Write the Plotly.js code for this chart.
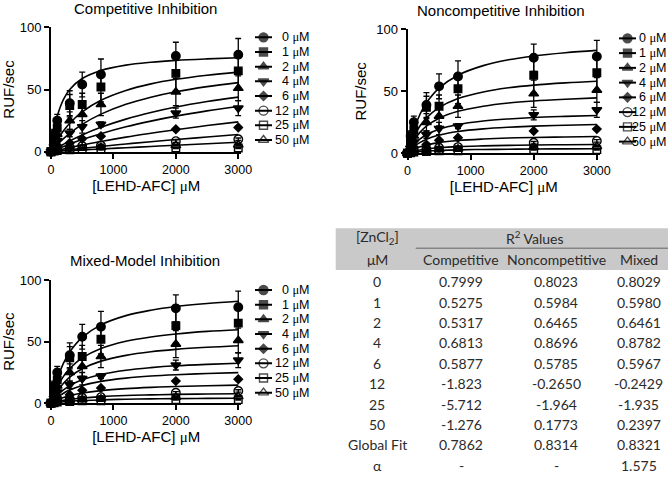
<!DOCTYPE html>
<html><head><meta charset="utf-8">
<script src="https://cdn.plot.ly/plotly-3.0.1.min.js"></script>
<style>html,body{margin:0;padding:0;background:#fff}</style>
</head><body><div id="chart" style="width:668px;height:477px"></div>
<script>
// ---------- data ----------
const inhibitorLabels = ["0", "1", "2", "4", "6", "12", "25", "50"]; // [ZnCl2] µM
const substrate = [0, 50, 100, 300, 500, 800, 2000, 3000];           // [LEHD-AFC] µM

const rate0  = [0, 14, 25, 39, 54, 62, 77, 78];
const rate1  = [0, 10, 19, 37, 38, 52, 63, 65];
const rate2  = [0, 7, 14, 25, 30, 38, 48, 51];
const rate4  = [0, 4, 9, 15, 20, 22, 31, 35];
const rate6  = [0, 2, 5, 7, 10.5, 12.5, 18, 19.5];
const rate12 = [0, 1, 2, 3.5, 4.5, 5, 8.5, 10];
const rate25 = [0, 0.5, 1, 1.5, 2, 2, 3, 3];
const rate50 = [0, 0.5, 1.5, 2.5, 3, 3.5, 5, 5.5];

const err0  = [0, 4, 5, 10, 10, 12.5, 11, 13];
const err1  = [0, 3, 5, 9, 9, 12, 14, 14];
const err2  = [0, 2, 4, 7, 8, 9, 11, 10];
const err4  = [0, 1, 2, 3, 5, 2, 4, 6];
const err6  = [0, 0.5, 1, 1, 1, 1, 1, 1];
const err12 = [0, 0.5, 0.5, 1, 1, 1, 1, 1];
const err25 = [0, 0.3, 0.3, 0.5, 0.5, 0.5, 0.5, 0.5];
const err50 = [0, 0.3, 0.5, 0.5, 0.5, 0.5, 0.5, 0.5];

// fitted curves
const curveS = [0, 50, 100, 200, 300, 500, 800, 1200, 1600, 2000, 2500, 3000];

const comp0  = [0, 17.4, 28.6, 42.1, 50.0, 58.8, 65.3, 69.6, 71.9, 73.4, 74.6, 75.5];
const comp1  = [0, 5.0, 9.4, 16.8, 22.9, 32.0, 41.3, 49.2, 54.5, 58.2, 61.5, 64.0];
const comp2  = [0, 2.9, 5.6, 10.5, 14.8, 22.0, 30.2, 38.1, 43.8, 48.2, 52.3, 55.5];
const comp4  = [0, 1.6, 3.1, 6.0, 8.7, 13.5, 19.6, 26.2, 31.5, 35.9, 40.3, 43.9];
const comp6  = [0, 1.1, 2.2, 4.2, 6.2, 9.8, 14.5, 20.0, 24.6, 28.6, 32.8, 36.4];
const comp12 = [0, 0.6, 1.1, 2.2, 3.3, 5.3, 8.2, 11.7, 14.8, 17.7, 21.0, 24.0];
const comp25 = [0, 0.3, 0.6, 1.1, 1.6, 2.7, 4.2, 6.2, 8.0, 9.8, 11.8, 13.8];
const comp50 = [0, 0.1, 0.3, 0.6, 0.8, 1.4, 2.2, 3.2, 4.2, 5.2, 6.4, 7.6];

const nonc0  = [0, 10.6, 19.1, 31.7, 40.7, 52.6, 63.0, 70.7, 75.4, 78.5, 81.1, 83.0];
const nonc1  = [0, 7.4, 13.4, 22.2, 28.5, 36.8, 44.1, 49.5, 52.8, 55.0, 56.8, 58.1];
const nonc2  = [0, 5.7, 10.3, 17.1, 21.9, 28.3, 33.9, 38.0, 40.6, 42.2, 43.6, 44.7];
const nonc4  = [0, 3.9, 7.0, 11.7, 15.0, 19.4, 23.2, 26.0, 27.7, 28.9, 29.8, 30.5];
const nonc6  = [0, 3.0, 5.3, 8.8, 11.4, 14.7, 17.6, 19.7, 21.0, 21.9, 22.6, 23.2];
const nonc12 = [0, 1.7, 3.1, 5.2, 6.6, 8.6, 10.3, 11.5, 12.3, 12.8, 13.2, 13.5];
const nonc25 = [0, 0.9, 1.6, 2.7, 3.5, 4.5, 5.4, 6.0, 6.4, 6.7, 6.9, 7.1];
const nonc50 = [0, 0.5, 0.8, 1.4, 1.8, 2.3, 2.8, 3.1, 3.3, 3.5, 3.6, 3.7];

const mixed0  = [0, 11.1, 19.8, 32.6, 41.6, 53.4, 63.6, 71.1, 75.5, 78.5, 81.0, 82.8];
const mixed1  = [0, 7.2, 12.9, 21.8, 28.2, 36.8, 44.5, 50.3, 53.8, 56.2, 58.3, 59.7];
const mixed2  = [0, 5.3, 9.6, 16.3, 21.3, 28.0, 34.2, 38.9, 41.8, 43.7, 45.4, 46.7];
const mixed4  = [0, 3.5, 6.4, 10.9, 14.3, 19.0, 23.4, 26.8, 28.9, 30.4, 31.6, 32.5];
const mixed6  = [0, 2.6, 4.7, 8.2, 10.7, 14.4, 17.8, 20.4, 22.1, 23.2, 24.2, 24.9];
const mixed12 = [0, 1.5, 2.7, 4.7, 6.2, 8.3, 10.3, 11.9, 12.9, 13.6, 14.2, 14.7];
const mixed25 = [0, 0.8, 1.4, 2.4, 3.2, 4.3, 5.4, 6.3, 6.8, 7.2, 7.5, 7.8];
const mixed50 = [0, 0.4, 0.7, 1.3, 1.7, 2.3, 2.8, 3.3, 3.6, 3.8, 4.0, 4.1];

const xTicks = [0, 1000, 2000, 3000];
const yTicks = [0, 50, 100];
const panelTitles = ["Competitive Inhibition", "Noncompetitive Inhibition", "Mixed-Model Inhibition"];

// table
const tableRowLabels   = ["0", "1", "2", "4", "6", "12", "25", "50", "Global Fit", "α"];
const r2Competitive    = ["0.7999", "0.5275", "0.5317", "0.6813", "0.5877", "-1.823", "-5.712", "-1.276", "0.7862", "-"];
const r2Noncompetitive = ["0.8023", "0.5984", "0.6465", "0.8696", "0.5785", "-0.2650", "-1.964", "0.1773", "0.8314", "-"];
const r2Mixed          = ["0.8029", "0.5980", "0.6461", "0.8782", "0.5967", "-0.2429", "-1.935", "0.2397", "0.8321", "1.575"];
const tableColHeaders  = ["Competitive", "Noncompetitive", "Mixed"];

// ---------- build ----------
const W = 668, H = 477;
const px = v => v / W;
const py = v => 1 - v / H;

const rates = [rate0, rate1, rate2, rate4, rate6, rate12, rate25, rate50];
const errs = [err0, err1, err2, err4, err6, err12, err25, err50];
const fits = [
  [comp0, comp1, comp2, comp4, comp6, comp12, comp25, comp50],
  [nonc0, nonc1, nonc2, nonc4, nonc6, nonc12, nonc25, nonc50],
  [mixed0, mixed1, mixed2, mixed4, mixed6, mixed12, mixed25, mixed50]
];
const symbols = ["circle", "square", "triangle-up", "triangle-down", "diamond", "circle-open", "square-open", "triangle-up-open"];
const msizes = [8.5, 7.5, 8.5, 8.5, 6.5, 8.5, 7.5, 8.5];
const INK = "#000";
const MU = '<span style="font-family:\'Liberation Serif\'">μ</span>';

const traces = [];
const axIds = [["x", "y"], ["x2", "y2"], ["x3", "y3"]];
const legAx = [["x4", "y4"], ["x5", "y5"], ["x6", "y6"]];

for (let p = 0; p < 3; p++) {
  for (let i = 0; i < 8; i++) {
    traces.push({
      type: "scatter", mode: "lines", x: curveS, y: fits[p][i],
      xaxis: axIds[p][0], yaxis: axIds[p][1],
      line: {color: INK, width: 1.6, shape: "spline", smoothing: 1},
      showlegend: false, hoverinfo: "skip"
    });
  }
  for (let i = 0; i < 8; i++) {
    traces.push({
      type: "scatter", mode: "markers", x: substrate, y: rates[i],
      xaxis: axIds[p][0], yaxis: axIds[p][1], cliponaxis: false,
      name: inhibitorLabels[i] + " µM",
      error_y: {type: "data", array: errs[i], visible: true, color: INK, thickness: 1.3, width: 3},
      marker: {symbol: symbols[i], size: msizes[i], color: INK, line: {color: INK, width: 1.4}},
      showlegend: false
    });
  }
  // legend keys
  for (let i = 0; i < 8; i++) {
    traces.push({
      type: "scatter", mode: "lines+markers", x: [0, 0.5, 1], y: [i, i, i],
      xaxis: legAx[p][0], yaxis: legAx[p][1], cliponaxis: false,
      line: {color: INK, width: 2},
      marker: {symbol: symbols[i], size: [0, msizes[i] + 0.5, 0], color: INK, line: {color: INK, width: 1.4}},
      showlegend: false, hoverinfo: "skip"
    });
  }
}

const font = {family: "Liberation Sans, Arial, sans-serif", size: 13, color: INK};
function xAxis(d0, d1, anchor) {
  return {domain: [d0, d1], anchor: anchor, range: [0, 3050], tickvals: xTicks,
    showgrid: false, zeroline: false, showline: true, linewidth: 2, linecolor: INK,
    ticks: "outside", ticklen: 5, tickwidth: 2, tickcolor: INK,
    tickfont: {family: font.family, size: 12.5, color: INK},
    title: {text: "[LEHD-AFC] " + MU + "M", font: {family: font.family, size: 15, color: INK}, standoff: 3},
    fixedrange: true};
}
function yAxis(d0, d1, anchor) {
  return {domain: [d0, d1], anchor: anchor, range: [0, 100], tickvals: yTicks,
    showgrid: false, zeroline: false, showline: true, linewidth: 2, linecolor: INK,
    ticks: "outside", ticklen: 5, tickwidth: 2, tickcolor: INK,
    tickfont: {family: font.family, size: 13, color: INK},
    title: {text: "RUF/sec", font: {family: font.family, size: 15, color: INK}, standoff: 6},
    fixedrange: true};
}
function hidden(d0, d1, range) {
  return {domain: [d0, d1], range: range, visible: false, fixedrange: true};
}

const layout = {
  width: W, height: H, margin: {l: 0, r: 0, t: 0, b: 0},
  paper_bgcolor: "#fff", plot_bgcolor: "rgba(0,0,0,0)",
  font: font, showlegend: false,
  xaxis: xAxis(px(51), px(241.4), "y"),
  yaxis: yAxis(py(151.7), py(27.3), "x"),
  xaxis2: xAxis(px(407.5), px(600), "y2"),
  yaxis2: yAxis(py(153.3), py(29.3), "x2"),
  xaxis3: xAxis(px(51), px(241.4), "y3"),
  yaxis3: yAxis(py(403.3), py(280), "x3"),
  xaxis4: Object.assign(hidden(px(255), px(272), [0, 1]), {anchor: "y4"}),
  yaxis4: Object.assign(hidden(py(147.3), py(30), [7.5, -0.5]), {anchor: "x4"}),
  xaxis5: Object.assign(hidden(px(619), px(636), [0, 1]), {anchor: "y5"}),
  yaxis5: Object.assign(hidden(py(149), py(31), [7.5, -0.5]), {anchor: "x5"}),
  xaxis6: Object.assign(hidden(px(255), px(272), [0, 1]), {anchor: "y6"}),
  yaxis6: Object.assign(hidden(py(400), py(282.7), [7.5, -0.5]), {anchor: "x6"}),
  annotations: [],
  shapes: []
};

// panel titles
const titlePos = [[145, 8.5], [500.7, 10], [145, 260.7]];
panelTitles.forEach((t, k) => layout.annotations.push({
  text: t, xref: "paper", yref: "paper", x: px(titlePos[k][0]), y: py(titlePos[k][1]),
  xanchor: "center", yanchor: "middle", showarrow: false,
  font: {family: font.family, size: 15, color: INK}
}));

// legend labels
const legTextRight = [312, 669, 312];
for (let p = 0; p < 3; p++) {
  inhibitorLabels.forEach((lab, i) => layout.annotations.push({
    text: (lab.length < 2 ? "\u2007" : "") + lab + " " + MU + "M",
    xref: "paper", yref: legAx[p][1], x: px(legTextRight[p]), y: i,
    xanchor: "right", yanchor: "middle", showarrow: false,
    font: {family: font.family, size: 12.5, color: INK}
  }));
}

// table
const tFont = {family: "Lato, Carlito, sans-serif", size: 14, color: "#2b2b2b"};
layout.shapes.push({type: "rect", xref: "paper", yref: "paper", x0: px(335.7), x1: 1,
  y0: py(270), y1: py(228.3), fillcolor: "#c9c9c9", line: {width: 0}, layer: "below"});
layout.shapes.push({type: "line", xref: "paper", yref: "paper", x0: px(415.7), x1: 1,
  y0: py(248.3), y1: py(248.3), line: {color: "#858585", width: 1.5}});
const colX = [377, 461, 556, 638.5];
function cell(text, cx, cy) {
  layout.annotations.push({text: text, xref: "paper", yref: "paper", x: px(cx), y: py(cy),
    xanchor: "center", yanchor: "middle", showarrow: false, font: tFont});
}
cell("[ZnCl<sub>2</sub>]", colX[0], 237);
cell("R<sup>2</sup> Values", 535, 237);
cell("μM", colX[0], 259.5);
tableColHeaders.forEach((h, k) => cell(h, colX[k + 1], 259.5));
tableRowLabels.forEach((lab, r) => {
  const cy = 281.7 + r * 20.4;
  cell(lab, colX[0], cy);
  cell(r2Competitive[r], colX[1], cy);
  cell(r2Noncompetitive[r], colX[2], cy);
  cell(r2Mixed[r], colX[3], cy);
});

Plotly.newPlot("chart", traces, layout, {staticPlot: true, displayModeBar: false});
</script></body></html>
